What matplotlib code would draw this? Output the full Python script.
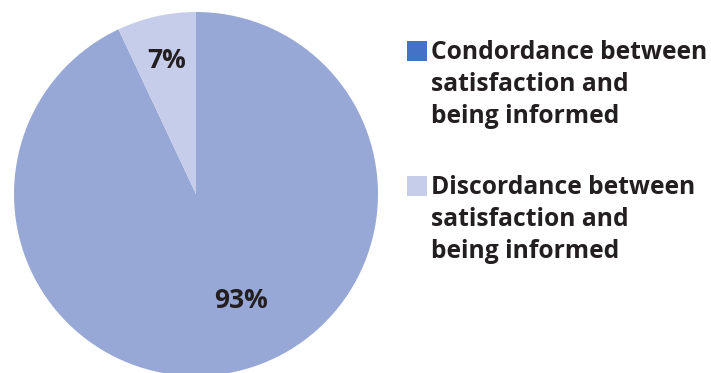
import matplotlib.pyplot as plt
from matplotlib.patches import Rectangle

labels = ["Condordance between\nsatisfaction and\nbeing informed",
          "Discordance between\nsatisfaction and\nbeing informed"]
values = [93, 7]
pie_colors = ["#97A8D6", "#C6CDEA"]
legend_colors = ["#4472C4", "#C6CDEA"]

plt.rcParams["font.family"] = ["Open Sans", "DejaVu Sans"]

W, H = 711, 373
fig = plt.figure(figsize=(W / 100, H / 100), dpi=100)
ax = fig.add_axes([0, 0, 1, 1])

# pie centre at pixel (196, 194), radius 182 px
r = 182
cx, cy = 196, 194
wedges, texts = ax.pie(values, colors=pie_colors, startangle=90, counterclock=False,
                       radius=1, labels=[f"{v}%" for v in values], labeldistance=0.6,
                       wedgeprops=dict(linewidth=0))
for t in texts:
    t.set_fontsize(19)
    t.set_fontweight("bold")
    t.set_color("#231F20")
    t.set_ha("center")
    t.set_va("center")
texts[0].set_position(((241 - cx) / r, (cy - 300) / r))
texts[1].set_position(((167 - cx) / r, (cy - 60) / r))

ax.set_xlim(-cx / r, (W - cx) / r)
ax.set_ylim(-(H - cy) / r, cy / r)
ax.set_aspect("equal")
ax.axis("off")

# legend
tops = [41, 176]
for top, lab, col in zip(tops, labels, legend_colors):
    fig.patches.append(Rectangle((407 / W, 1 - (top + 20) / H), 20 / W, 20 / H,
                                 transform=fig.transFigure, color=col, lw=0))
    fig.text(431 / W, 1 - (top - 1) / H, lab, fontsize=17.7, fontweight="bold",
             color="#231F20", va="top", ha="left", linespacing=1.37)

fig.savefig("out.png", dpi=100)
